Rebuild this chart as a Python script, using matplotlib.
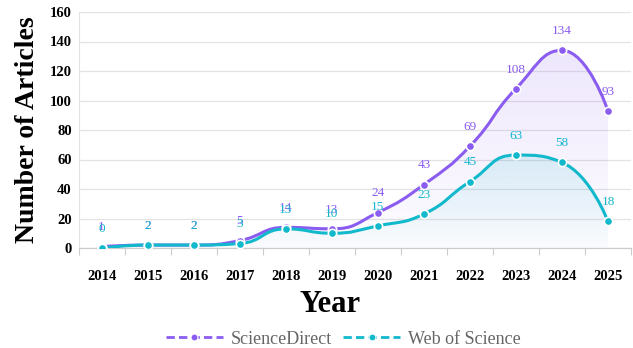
import matplotlib.pyplot as plt
import numpy as np
from matplotlib.path import Path
from matplotlib.patches import PathPatch
from matplotlib.lines import Line2D

plt.rcParams['font.family'] = ['Liberation Serif', 'DejaVu Serif']

years = ['2014', '2015', '2016', '2017', '2018', '2019',
         '2020', '2021', '2022', '2023', '2024', '2025']
science_direct = [1, 2, 2, 5, 14, 13, 24, 43, 69, 108, 134, 93]
web_of_science = [0, 2, 2, 3, 13, 10, 15, 23, 45, 63, 58, 18]

sd_color = '#8b5cf0'
wos_color = '#12b8cc'


def smooth_verts(pts, smooth=0.5):
    # bezier control points in display space, clamped between neighbours
    verts = [pts[0]]
    codes = [Path.MOVETO]
    cp0 = pts[0].copy()
    n = len(pts)
    for k in range(1, n):
        x, y = pts[k]
        px, py = pts[k - 1]
        if k < n - 1:
            nx, ny = pts[k + 1]
            vx, vy = nx - px, ny - py
            len_prev = np.hypot(x - px, y - py)
            len_next = np.hypot(nx - x, ny - y)
            ratio = len_next / (len_next + len_prev)
            ncx = x + vx * smooth * ratio
            ncy = y + vy * smooth * ratio
            ncx = max(min(ncx, max(nx, x)), min(nx, x))
            ncy = max(min(ncy, max(ny, y)), min(ny, y))
            vx, vy = ncx - x, ncy - y
            c1x = x - vx * len_prev / len_next
            c1y = y - vy * len_prev / len_next
            c1x = max(min(c1x, max(px, x)), min(px, x))
            c1y = max(min(c1y, max(py, y)), min(py, y))
            vx, vy = x - c1x, y - c1y
            ncx = x + vx * len_next / len_prev
            ncy = y + vy * len_next / len_prev
        else:
            c1x, c1y = x, y
            ncx, ncy = x, y
        verts += [cp0.copy(), np.array([c1x, c1y]), np.array([x, y])]
        codes += [Path.CURVE4] * 3
        cp0 = np.array([ncx, ncy])
    return np.array(verts), codes


fig = plt.figure(figsize=(6.33, 3.48), dpi=100)
ax = fig.add_axes([78.6 / 633, 1 - 248 / 348, (631 - 78.6) / 633, 236 / 348])
x = np.arange(len(years))
ax.set_xlim(-0.5, len(years) - 0.5)
ax.set_ylim(0, 160)

for values, color, top_alpha, z in [(science_direct, sd_color, 0.15, 1),
                                    (web_of_science, wos_color, 0.13, 2)]:
    disp = ax.transData.transform(np.column_stack([x, values]))
    verts, codes = smooth_verts(disp)
    data_verts = ax.transData.inverted().transform(verts)
    curve = Path(data_verts, codes)
    ax.add_patch(PathPatch(curve, facecolor='none', edgecolor=color,
                           linewidth=2.2, zorder=4 + z, capstyle='round'))

    # gradient area under the curve
    area_verts = np.vstack([data_verts, [[x[-1], 0], [x[0], 0], [x[0], values[0]]]])
    area_codes = codes + [Path.LINETO, Path.LINETO, Path.CLOSEPOLY]
    area = PathPatch(Path(area_verts, area_codes), facecolor='none',
                     edgecolor='none')
    ax.add_patch(area)
    rgb = np.array(plt.matplotlib.colors.to_rgb(color))
    grad = np.zeros((256, 1, 4))
    grad[:, 0, :3] = rgb
    grad[:, 0, 3] = np.linspace(top_alpha, 0.015, 256)
    im = ax.imshow(grad, extent=[x[0], x[-1], 0, max(values)], origin='upper',
                   aspect='auto', zorder=z, interpolation='bilinear')
    im.set_clip_path(area)

    ax.plot(x, values, linestyle='none', marker='o', markersize=6,
            markerfacecolor=color, markeredgecolor='white',
            markeredgewidth=1.2, zorder=6 + z)
    for xi, v in zip(x, values):
        ax.annotate(str(v), (xi, v), xytext=(0, 9.5), textcoords='offset points',
                    ha='center', va='bottom', fontsize=9.5, color=color,
                    zorder=8 + z)

ax.set_ylim(0, 160)
ax.set_yticks(np.arange(0, 161, 20))
ax.grid(axis='y', color='#e3e3e3', linewidth=0.9)
ax.set_axisbelow(True)
ax.set_xticks(x)
ax.set_xticklabels(years)
ax.set_xticks(np.arange(-0.5, len(years), 1), minor=True)
ax.tick_params(axis='x', which='major', length=0, pad=16, labelsize=10.5)
ax.tick_params(axis='x', which='minor', length=5, color='#cccccc', width=0.8)
ax.tick_params(axis='y', length=0, pad=5, labelsize=10.5)
for lab in ax.get_xticklabels() + ax.get_yticklabels():
    lab.set_fontweight('bold')

for side in ['top', 'right']:
    ax.spines[side].set_visible(False)
ax.spines['left'].set_color('#e3e3e3')
ax.spines['bottom'].set_color('#cccccc')
ax.spines['bottom'].set_linewidth(0.9)

fig.text(27 / 633, 1 - 130 / 348, 'Number of Articles', rotation=90,
         ha='center', va='center', fontsize=20, fontweight='bold')
fig.text(330 / 633, 1 - 305 / 348, 'Year', ha='center', va='center',
         fontsize=22, fontweight='bold')

handles = [Line2D([], [], color=sd_color, linestyle=(0, (3, 1.5)), linewidth=2,
                  marker='o', markersize=5, markeredgecolor='white',
                  markeredgewidth=0.8),
           Line2D([], [], color=wos_color, linestyle=(0, (3, 1.5)), linewidth=2,
                  marker='o', markersize=5, markeredgecolor='white',
                  markeredgewidth=0.8)]
leg = fig.legend(handles, ['ScienceDirect', 'Web of Science'], loc='center',
                 bbox_to_anchor=(343 / 633, 1 - 339 / 348), ncol=2,
                 frameon=False, fontsize=13, handlelength=3.2,
                 handletextpad=0.4, columnspacing=0.6, numpoints=1)
for t in leg.get_texts():
    t.set_color('#666666')

fig.savefig('out.png', dpi=100)
